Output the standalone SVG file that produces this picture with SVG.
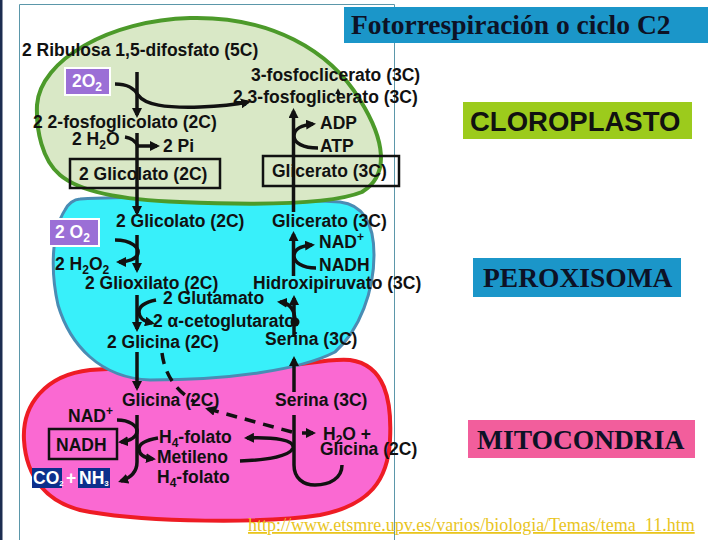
<svg xmlns="http://www.w3.org/2000/svg" width="720" height="540" viewBox="0 0 720 540">
<style>
.t{font-family:"Liberation Sans",Arial,sans-serif;font-weight:bold;font-size:17.5px;fill:#111}
.w{fill:#fff}
.sub{font-size:12px}
.ln{fill:none;stroke:#111;stroke-width:3.5;stroke-linecap:butt}
.ar{marker-end:url(#ah)}
.dash{stroke-dasharray:11,8}
.lbl{font-family:"Liberation Serif","Times New Roman",serif;font-weight:bold;font-size:27.5px;fill:#0d1226}
.bx{fill:none;stroke:#111;stroke-width:2.5}
.frame{stroke:#5b97aa;stroke-width:1;fill:none}
</style>
<defs>
<marker id="ah" viewBox="0 0 10 10" refX="7" refY="5" markerWidth="10" markerHeight="10" markerUnits="userSpaceOnUse" orient="auto">
<path d="M0,0 L10,5 L0,10 z" fill="#111"/>
</marker>
<marker id="ahs" viewBox="0 0 10 10" refX="7" refY="5" markerWidth="6" markerHeight="6" markerUnits="userSpaceOnUse" orient="auto">
<path d="M0,0 L10,5 L0,10 z" fill="#111"/>
</marker>
</defs>
<rect width="720" height="540" fill="#fff"/>
<rect x="0" y="0" width="2.5" height="540" fill="#1c2c50"/>
<path class="frame" d="M19.5,540 L19.5,4.5 L394.5,4.5 L394.5,540"/>

<g id="mitocondria">
<path d="M24,440 C22,405 45,375 90,370 C150,365 210,375 270,368 C310,364 330,358 350,360 C385,365 392,400 390,440 C388,480 370,505 320,515 C260,524 150,522 90,512 C45,505 26,475 24,440 Z" fill="#fa69d2" stroke="#ee1c24" stroke-width="4"/>
</g>
<g id="peroxisoma">
<path d="M80,199 C150,195 290,199 340,202 C365,205 374,225 374,255 C374,290 360,330 335,352 C300,370 230,380 150,380 C100,378 70,345 58,305 C50,270 52,230 65,210 C68,204 74,199 80,199 Z" fill="#38f0fa" stroke="#4a8cb4" stroke-width="3"/>
</g>
<g id="cloroplasto">
<path d="M37,105 C40,60 110,20 190,18 C270,16 330,50 360,100 C385,140 390,175 362,192 C330,205 250,205 180,202 C120,200 80,192 60,175 C42,160 36,130 37,105 Z" fill="#d9e8c6" stroke="#4c9a2a" stroke-width="4"/>
</g>

<g id="titulo">
<rect x="344" y="7" width="364" height="36" fill="#1b96c9"/>
<text x="351" y="34" font-family="Liberation Serif,'Times New Roman',serif" font-weight="bold" font-size="27.5" fill="#0d1226">Fotorrespiración o ciclo C2</text>
</g>
<g id="label-cloroplasto">
<rect x="463" y="102" width="229" height="37" fill="#9ccb1c"/>
<text x="470" y="131" font-family="Liberation Sans,Arial,sans-serif" font-weight="bold" font-size="27.5" fill="#111">CLOROPLASTO</text>
</g>
<g id="label-peroxisoma">
<rect x="473" y="258" width="208" height="39" fill="#1b96c9"/>
<text class="lbl" x="483" y="287">PEROXISOMA</text>
</g>
<g id="label-mitocondria">
<rect x="468" y="420" width="227" height="38" fill="#f25e9c"/>
<text class="lbl" x="477" y="449">MITOCONDRIA</text>
</g>

<g id="nodes-cloroplasto">
<text class="t" x="22" y="56">2 Ribulosa 1,5-difosfato (5C)</text>
<rect x="65" y="68" width="45" height="27" fill="#9b6fd6" stroke="#fff" stroke-width="2"/>
<text class="t w" x="72" y="87">2O<tspan class="sub" dy="4">2</tspan></text>
<text class="t" x="251" y="81">3-fosfoclicerato (3C)</text>
<text class="t" x="233" y="103">2,3-fosfoglicerato (3C)</text>
<text class="t" x="33" y="128">2 2-fosfoglicolato (2C)</text>
<text class="t" x="72" y="145">2 H<tspan class="sub" dy="4">2</tspan><tspan dy="-4">O</tspan></text>
<text class="t" x="163" y="152">2 Pi</text>
<rect class="bx" x="70" y="159" width="150" height="29"/>
<text class="t" x="79" y="180">2 Glicolato (2C)</text>
<text class="t" x="320" y="129">ADP</text>
<text class="t" x="320" y="152">ATP</text>
<rect class="bx" x="263" y="156" width="136" height="30"/>
<text class="t" x="272" y="177">Glicerato (3C)</text>
</g>

<g id="nodes-peroxisoma">
<rect x="49" y="219" width="50" height="27" fill="#9b6fd6" stroke="#fff" stroke-width="2"/>
<text class="t w" x="55" y="238">2 O<tspan class="sub" dy="4">2</tspan></text>
<text class="t" x="116" y="227">2 Glicolato (2C)</text>
<text class="t" x="272" y="227">Glicerato (3C)</text>
<text class="t" x="319" y="248">NAD<tspan class="sub" dy="-7">+</tspan></text>
<text class="t" x="319" y="271">NADH</text>
<text class="t" x="55" y="270">2 H<tspan class="sub" dy="4">2</tspan><tspan dy="-4">O</tspan><tspan class="sub" dy="4">2</tspan></text>
<text class="t" x="85" y="289">2 Glioxilato (2C)</text>
<text class="t" x="253" y="289">Hidroxipiruvato (3C)</text>
<text class="t" x="163" y="304">2 Glutamato</text>
<text class="t" x="153" y="327">2 α-cetoglutarato</text>
<text class="t" x="107" y="348">2 Glicina (2C)</text>
<text class="t" x="265" y="345">Serina (3C)</text>
</g>

<g id="nodes-mitocondria">
<text class="t" x="122" y="406">Glicina (2C)</text>
<text class="t" x="275" y="406">Serina (3C)</text>
<text class="t" x="68" y="422">NAD<tspan class="sub" dy="-7">+</tspan></text>
<rect class="bx" x="49" y="429" width="68" height="30"/>
<text class="t" x="56" y="451">NADH</text>
<text class="t" x="159" y="443">H<tspan class="sub" dy="4">4</tspan><tspan dy="-4">-folato</tspan></text>
<text class="t" x="157" y="463">Metileno</text>
<text class="t" x="157" y="483">H<tspan class="sub" dy="4">4</tspan><tspan dy="-4">-folato</tspan></text>
<text class="t" x="323" y="440">H<tspan class="sub" dy="4">2</tspan><tspan dy="-4">O +</tspan></text>
<text class="t" x="320" y="455">Glicina (2C)</text>
<rect x="32" y="468" width="30" height="20" fill="#0c2f8c"/>
<text class="t w" x="33" y="484" font-size="16">CO<tspan font-size="8" dy="2">2</tspan></text>
<text class="t w" x="66" y="484" font-size="16">+</text>
<rect x="78" y="468" width="32" height="20" fill="#0c2f8c"/>
<text class="t w" x="79" y="484" font-size="16">NH<tspan font-size="8" dy="2">3</tspan></text>
</g>

<g id="connectors">
<path class="ln ar" d="M137,72 L137,115"/>
<path class="ln ar" d="M115,84 C128,84 134,88 138,95 C145,105 165,108 200,107 C225,106 238,104 248,102"/>
<path class="ln ar" d="M137,133 L137,213"/>
<path class="ln ar" d="M125,137 C132,138 136,142 138,146 L157,146"/>
<path class="ln ar" d="M293.5,212 L293.5,111"/>
<path class="ln ar" d="M318,148 C303,148 294,143 294,136 C294,129 302,125 313,124"/>
<path d="M338,98 L338,90" stroke="#111" stroke-width="2" marker-end="url(#ahs)"/>

<path class="ln ar" d="M137,235 L137,270"/>
<path class="ln ar" d="M115,240 C132,240 139,248 138,253 C137,259 128,262 119,262"/>
<path class="ln ar" d="M293.5,276 L293.5,234"/>
<path class="ln ar" d="M316,268 C302,268 294,262 294,256 C294,250 300,246 312,245"/>
<path class="ln ar" d="M137,295 L137,329"/>
<path class="ln ar" d="M156,300 C146,302 139,306 139,312 C139,318 143,321 152,323"/>
<path class="ln ar" d="M294,337 L294,298"/>
<path class="ln ar" d="M295,322 C295,310 290,303 280,302"/>
<circle cx="295" cy="322" r="4.5" fill="#111"/>

<path class="ln ar" d="M137,352 L137,388"/>
<path class="ln ar" d="M294,392 L294,359"/>
<path class="ln dash" d="M162,353 Q166,385 195,402"/>
<path class="ln dash ar" d="M292,432 L208,409"/>
<path class="ln ar" d="M117,420 C130,420 137,426 137,431 C137,437 130,441 121,442"/>
<path class="ln ar" d="M137,415 L137,462 C137,472 130,478 121,481"/>
<path class="ln ar" d="M158,438 C146,440 139,444 139,449 C139,455 145,458 153,459"/>
<path class="ln ar" d="M240,461 C268,460 290,456 293,448 C295,440 275,437 247,438"/>
<path class="ln" d="M294,415 L294,465 C294,478 303,485 315,485 C330,485 342,478 342,465"/>
<path class="ln ar" d="M302,433 L313,433"/>
</g>

<text x="248" y="531" font-family="Liberation Serif,'Times New Roman',serif" font-size="18" fill="#e9c51e" text-decoration="underline">http://www.etsmre.upv.es/varios/biologia/Temas/tema_11.htm</text>
</svg>
